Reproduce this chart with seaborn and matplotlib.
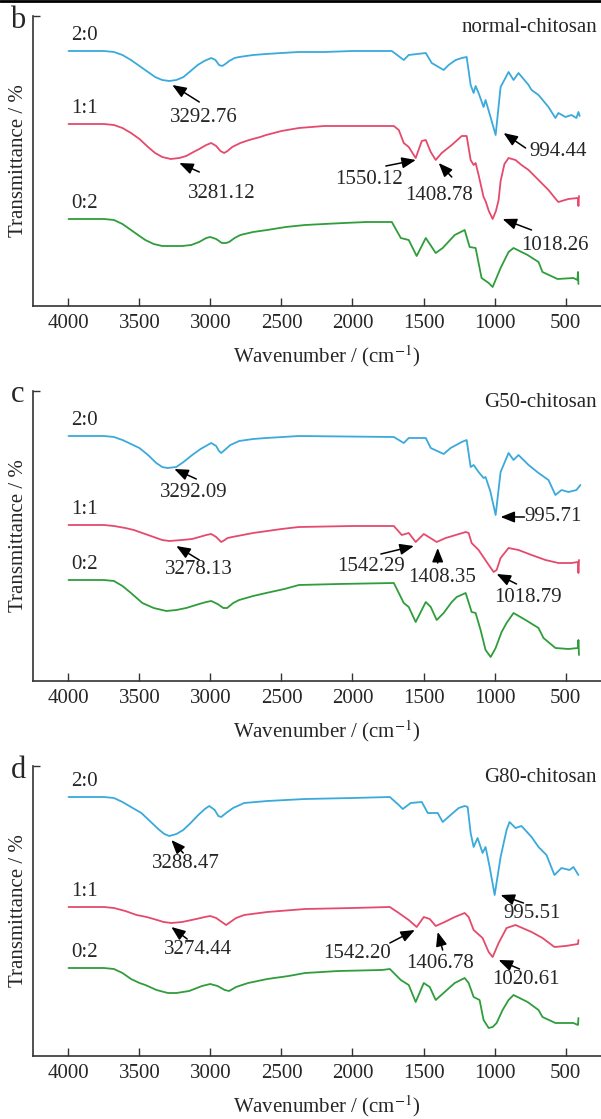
import numpy as np
import matplotlib
matplotlib.use("Agg")
import matplotlib.pyplot as plt
import seaborn as sns
from matplotlib.lines import Line2D

sns.set_theme(style="white")
plt.rcParams["font.family"] = ["Liberation Serif", "DejaVu Serif"]
plt.rcParams["mathtext.fontset"] = "stix"

# ---------------- data (transmittance, arbitrary offset units) ----------------
panel_letters = ["b", "c", "d"]
panel_titles = ["normal-chitosan", "G50-chitosan", "G80-chitosan"]
ratio_labels = ["2:0", "1:1", "0:2"]
x_ticks = [4000, 3500, 3000, 2500, 2000, 1500, 1000, 500]

# panel b
b_blue_wn = [4000, 3750, 3680, 3620, 3560, 3500, 3440, 3390, 3340, 3290, 3240, 3190, 3140, 3090, 3044, 2995, 2965, 2940, 2918, 2895, 2869, 2830, 2798, 2700, 2608, 2500, 2377, 2200, 2000, 1723, 1639, 1604, 1484, 1442, 1358, 1323, 1273, 1231, 1196, 1168, 1147, 1133, 1112, 1077, 1063, 1020, 992, 957, 901, 866, 831, 760, 739, 690, 620, 571, 550, 500, 458, 423, 409, 400]
b_blue_t = [255, 255, 254, 251, 246, 240, 234, 229, 226, 225, 226, 229, 235, 241, 245, 248, 246, 241, 240, 242, 245, 248, 249, 251, 252, 253, 254, 254, 255, 255, 246, 251, 253, 243, 236, 241, 246, 248, 249, 221, 213, 220, 213, 199, 206, 185, 171, 219, 234, 226, 233, 221, 216, 211, 199, 188, 193, 189, 191, 188, 194, 190]
b_red_wn = [4000, 3750, 3680, 3620, 3560, 3500, 3440, 3390, 3340, 3280, 3220, 3171, 3120, 3079, 3030, 2995, 2960, 2930, 2904, 2880, 2847, 2790, 2728, 2650, 2608, 2500, 2377, 2200, 2000, 1709, 1674, 1639, 1604, 1555, 1512, 1484, 1449, 1414, 1372, 1301, 1231, 1196, 1168, 1147, 1133, 1112, 1077, 1063, 1040, 1013, 990, 971, 957, 930, 901, 852, 810, 760, 690, 620, 563, 550, 480, 412, 409, 405]
b_red_t = [182, 182, 181, 178, 173, 167, 159, 153, 149, 147, 148, 150, 154, 157, 161, 163, 160, 155, 153, 155, 159, 163, 166, 169, 171, 175, 178, 180, 180, 180, 176, 163, 159, 148, 165, 166, 154, 146, 153, 161, 170, 170, 146, 141, 143, 131, 109, 105, 95, 87, 95, 106, 125, 142, 148, 146, 141, 136, 126, 116, 106, 104, 107, 108, 100, 110]
b_green_wn = [4000, 3750, 3680, 3620, 3560, 3500, 3459, 3400, 3340, 3276, 3200, 3136, 3080, 3030, 3002, 2960, 2920, 2890, 2869, 2830, 2790, 2700, 2601, 2470, 2334, 2200, 2060, 1900, 1793, 1723, 1660, 1604, 1548, 1484, 1414, 1365, 1280, 1210, 1175, 1133, 1091, 1041, 1013, 957, 901, 866, 767, 690, 662, 556, 444, 416, 412, 409]
b_green_t = [87, 87, 86, 82, 76, 70, 66, 62, 60, 60, 60, 61, 64, 68, 69, 67, 63, 63, 64, 68, 71, 74, 76, 79, 81, 82, 83, 84, 84, 84, 68, 66, 50, 68, 53, 58, 71, 76, 59, 58, 28, 23, 19, 38, 54, 58, 51, 44, 34, 27, 28, 26, 34, 22]

# panel c
c_blue_wn = [4000, 3750, 3680, 3620, 3560, 3501, 3440, 3382, 3340, 3304, 3241, 3190, 3129, 3070, 3020, 2995, 2960, 2940, 2925, 2900, 2860, 2798, 2700, 2608, 2377, 1709, 1639, 1604, 1484, 1449, 1358, 1309, 1231, 1196, 1168, 1147, 1112, 1077, 1063, 1030, 992, 957, 901, 866, 831, 760, 690, 620, 571, 528, 479, 423, 395]
c_blue_t = [245, 245, 244, 241, 237, 233, 226, 218, 214, 213, 214, 219, 226, 232, 236, 238, 235, 230, 228, 231, 236, 240, 242, 243, 245, 244, 238, 243, 243, 233, 227, 233, 239, 241, 214, 216, 209, 203, 204, 190, 166, 209, 228, 221, 226, 216, 208, 201, 186, 191, 189, 191, 196]
c_red_wn = [4000, 3750, 3680, 3600, 3540, 3480, 3400, 3340, 3290, 3200, 3130, 3079, 3030, 2995, 2960, 2925, 2900, 2880, 2847, 2700, 2500, 2377, 2000, 1709, 1653, 1604, 1555, 1498, 1463, 1407, 1344, 1273, 1203, 1182, 1161, 1112, 1055, 1006, 985, 957, 901, 831, 739, 641, 550, 458, 412, 409, 405]
c_red_t = [156, 156, 155, 153, 151, 148, 144, 141, 140, 141, 142, 144, 146, 147, 144, 139, 141, 143, 144, 148, 152, 154, 155, 155, 146, 148, 139, 147, 144, 139, 143, 146, 149, 148, 138, 131, 119, 109, 111, 123, 133, 131, 126, 121, 118, 118, 119, 108, 121]
c_green_wn = [4000, 3750, 3680, 3620, 3560, 3480, 3400, 3311, 3240, 3171, 3080, 3030, 2995, 2950, 2910, 2883, 2840, 2798, 2700, 2608, 2480, 2377, 2100, 1709, 1639, 1604, 1555, 1484, 1449, 1407, 1358, 1301, 1266, 1203, 1161, 1133, 1098, 1063, 1027, 992, 950, 915, 866, 781, 690, 655, 571, 479, 412, 409, 405]
c_green_t = [101, 101, 100, 95, 88, 78, 73, 70, 71, 73, 77, 79, 80, 77, 73, 73, 78, 81, 85, 88, 92, 96, 97, 98, 78, 74, 59, 79, 74, 61, 68, 79, 84, 88, 69, 68, 51, 31, 24, 33, 49, 58, 68, 61, 53, 43, 33, 32, 33, 41, 26]

# panel d
d_blue_wn = [4000, 3750, 3680, 3620, 3560, 3487, 3420, 3360, 3325, 3290, 3240, 3192, 3140, 3086, 3040, 3009, 2970, 2945, 2925, 2890, 2841, 2763, 2600, 2334, 2000, 1737, 1674, 1646, 1590, 1512, 1470, 1400, 1365, 1309, 1252, 1210, 1189, 1168, 1147, 1119, 1084, 1063, 1034, 999, 957, 915, 894, 852, 810, 739, 690, 634, 578, 528, 472, 444, 409]
d_blue_t = [259, 259, 258, 254, 249, 243, 234, 226, 222, 220, 222, 226, 233, 241, 247, 250, 246, 240, 239, 243, 248, 253, 255, 257, 258, 259, 251, 247, 253, 254, 243, 243, 234, 241, 248, 250, 249, 223, 209, 218, 203, 209, 189, 161, 199, 226, 234, 228, 230, 219, 209, 201, 181, 188, 186, 189, 181]
d_red_wn = [4000, 3750, 3680, 3600, 3520, 3450, 3400, 3330, 3276, 3200, 3100, 3040, 3002, 2960, 2920, 2890, 2860, 2820, 2763, 2600, 2334, 2000, 1737, 1674, 1604, 1548, 1498, 1456, 1414, 1351, 1280, 1210, 1182, 1147, 1084, 1041, 1013, 971, 915, 852, 739, 662, 578, 500, 412, 409]
d_red_t = [149, 149, 148, 145, 141, 139, 137, 134, 133, 134, 137, 139, 140, 138, 134, 131, 134, 138, 141, 144, 147, 148, 149, 143, 136, 129, 139, 137, 130, 134, 139, 143, 139, 126, 118, 104, 99, 113, 128, 131, 124, 118, 109, 110, 112, 116]
d_green_wn = [4000, 3750, 3680, 3620, 3560, 3500, 3459, 3380, 3300, 3240, 3150, 3060, 3002, 2950, 2900, 2869, 2820, 2735, 2600, 2450, 2334, 2100, 1793, 1737, 1660, 1604, 1555, 1498, 1456, 1414, 1351, 1280, 1210, 1182, 1147, 1105, 1077, 1041, 1013, 985, 943, 901, 866, 767, 690, 662, 571, 444, 412, 409]
d_green_t = [88, 88, 87, 83, 77, 73, 71, 66, 63, 63, 65, 70, 72, 70, 66, 65, 69, 73, 77, 80, 83, 85, 86, 87, 76, 71, 54, 73, 69, 56, 64, 73, 78, 73, 59, 56, 36, 28, 29, 33, 46, 56, 61, 54, 46, 39, 33, 33, 31, 38]

peak_labels_b = ["3292.76", "3281.12", "1550.12", "1408.78", "994.44", "1018.26"]
peak_labels_c = ["3292.09", "3278.13", "1542.29", "1408.35", "995.71", "1018.79"]
peak_labels_d = ["3288.47", "3274.44", "1542.20", "1406.78", "995.51", "1020.61"]

# ---------------- layout (not data) ----------------
W, H = 601, 1119
colors = ["#3aa9dc", "#e54a6c", "#2f9d3b"]
ax_left_px = 33
bottoms_px = [306, 681, 1056]
ax_h_px = 290

# (tip_wn, tip_t, tail_wn, tail_t, text_wn, text_t) per annotation
ann_pos = [
    [(3269, 221, 3079, 204, 3044, 188), (3220, 143, 3079, 134, 2918, 113),
     (1554, 146, 1765, 140, 1885, 126), (1393, 143, 1301, 129, 1393, 111),
     (936, 173, 781, 158, 550, 154), (943, 87, 739, 76, 571, 61)],
    [(3255, 212, 3100, 202, 3115, 188), (3241, 135, 3079, 121, 3079, 111),
     (1568, 135, 1800, 127, 1871, 114), (1400, 133, 1400, 118, 1372, 103),
     (957, 164, 789, 164, 585, 164), (985, 107, 845, 97, 767, 83)],
    [(3276, 216, 3192, 203, 3171, 193), (3276, 129, 3164, 117, 3086, 106),
     (1561, 126, 1737, 113, 1969, 103), (1400, 124, 1365, 106, 1386, 93),
     (957, 161, 796, 153, 732, 143), (971, 96, 824, 87, 781, 76)],
]

traces = [
    [(b_blue_wn, b_blue_t), (b_red_wn, b_red_t), (b_green_wn, b_green_t)],
    [(c_blue_wn, c_blue_t), (c_red_wn, c_red_t), (c_green_wn, c_green_t)],
    [(d_blue_wn, d_blue_t), (d_red_wn, d_red_t), (d_green_wn, d_green_t)],
]
peak_labels = [peak_labels_b, peak_labels_c, peak_labels_d]

fig = plt.figure(figsize=(W / 100, H / 100), dpi=100)
FS = 15

for i in range(3):
    bpx = bottoms_px[i]
    ax = fig.add_axes([ax_left_px / W, 1 - bpx / H, 1 - ax_left_px / W, ax_h_px / H])
    for j, (wn, t) in enumerate(traces[i]):
        sns.lineplot(x=wn, y=t, ax=ax, color=colors[j], linewidth=1.3,
                     estimator=None, sort=False, legend=False)
        ax.text(3980, t[0] + 6, ratio_labels[j], fontsize=FS, ha="left", va="bottom")
    for lab, (tw, tt, aw, at, xw, xt) in zip(peak_labels[i], ann_pos[i]):
        ax.annotate("", xy=(tw, tt), xytext=(aw, at),
                    arrowprops=dict(arrowstyle="-|>,head_length=0.7,head_width=0.28",
                                    color="black", lw=1.1, shrinkA=0, shrinkB=0))
        ax.text(xw, xt, lab, fontsize=FS, ha="center", va="center")
    ax.set_xlim(4250, 250)
    ax.set_ylim(0, ax_h_px)
    ax.set_xticks(x_ticks)
    ax.set_xticklabels([str(v) for v in x_ticks], fontsize=FS)
    ax.set_yticks([ax_h_px])
    ax.set_yticklabels([])
    ax.tick_params(axis="x", direction="in", length=6, width=1.0, color="#333333",
                   pad=6, bottom=True)
    ax.tick_params(axis="y", direction="in", length=5, width=1.0, color="#333333", left=True)
    ax.set_xlabel("")
    ax.set_ylabel("")
    for s in ["top", "right"]:
        ax.spines[s].set_visible(False)
    for s in ["left", "bottom"]:
        ax.spines[s].set_color("#333333")
        ax.spines[s].set_linewidth(1.2)
    ax.text(0.993, 0.96, panel_titles[i], transform=ax.transAxes, fontsize=FS,
            ha="right", va="center")
    ax.text((327 - ax_left_px) / (W - ax_left_px), -50 / ax_h_px,
            "Wavenumber / (cm$^{-1}$)", transform=ax.transAxes, fontsize=FS,
            ha="center", va="center")
    fig.text(19 / W, 1 - (bpx - 145) / H, "Transmittance / %", rotation=90,
             fontsize=FS, ha="center", va="center")
    fig.text(18 / W, 1 - (bpx - 286) / H, panel_letters[i], fontsize=22,
             ha="center", va="center")

fig.add_artist(Line2D([0, 1], [1 - 1 / H, 1 - 1 / H], transform=fig.transFigure,
                      color="black", linewidth=2.0))

fig.savefig("out.png", dpi=100)
